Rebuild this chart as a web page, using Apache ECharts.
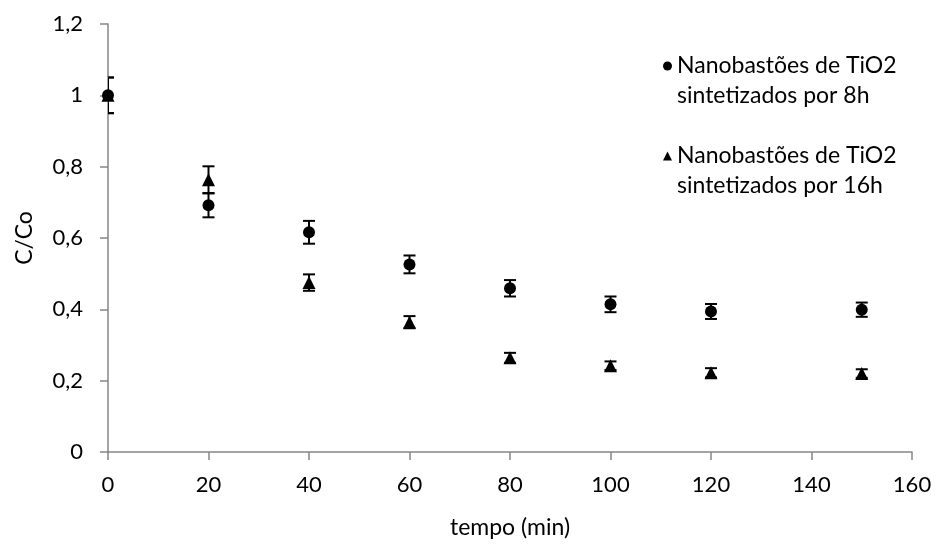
<!DOCTYPE html>
<html>
<head>
<meta charset="utf-8">
<script src="https://cdn.jsdelivr.net/npm/echarts@6/dist/echarts.min.js"></script>
<style>
html,body{margin:0;padding:0;background:#fff;}
#chart{width:935px;height:544px;}
</style>
</head>
<body>
<div id="chart"></div>
<script>
// ---- data ----
const tempo = [0, 20, 40, 60, 80, 100, 120, 150];
const mean8h = [1.0, 0.692, 0.616, 0.526, 0.459, 0.414, 0.394, 0.399];
const err8h = [0.05, 0.034, 0.032, 0.025, 0.023, 0.022, 0.021, 0.020];
const mean16h = [1.0, 0.763, 0.475, 0.364, 0.264, 0.242, 0.222, 0.220];
const err16h = [0.05, 0.038, 0.023, 0.017, 0.014, 0.012, 0.013, 0.012];
const seriesNames = ['Nanobastões de TiO2 sintetizados por 8h', 'Nanobastões de TiO2 sintetizados por 16h'];
const legendLines = {
  'Nanobastões de TiO2 sintetizados por 8h': ['Nanobastões de TiO2', 'sintetizados por 8h'],
  'Nanobastões de TiO2 sintetizados por 16h': ['Nanobastões de TiO2', 'sintetizados por 16h']
};
const xAxisTitle = 'tempo (min)';
const yAxisTitle = 'C/Co';

const FONT = 'Lato';
const FS_TICK = 22;
const FS_TEXT = 23;

function points(means) { return tempo.map((t, i) => [t, means[i]]); }
function errData(means, errs) { return tempo.map((t, i) => [t, means[i] - errs[i], means[i] + errs[i]]); }

function errRender(params, api) {
  const x = api.value(0);
  const lo = api.coord([x, api.value(1)]);
  const hi = api.coord([x, api.value(2)]);
  const hw = 6;
  const style = { stroke: '#000', lineWidth: 2 };
  return {
    type: 'group',
    children: [
      { type: 'line', shape: { x1: lo[0], y1: lo[1], x2: hi[0], y2: hi[1] }, style },
      { type: 'line', shape: { x1: lo[0] - hw, y1: lo[1], x2: lo[0] + hw, y2: lo[1] }, style },
      { type: 'line', shape: { x1: hi[0] - hw, y1: hi[1], x2: hi[0] + hw, y2: hi[1] }, style }
    ]
  };
}

const axisGray = '#868686';
const chart = echarts.init(document.getElementById('chart'), null, { renderer: 'canvas' });
chart.setOption({
  animation: false,
  backgroundColor: '#fff',
  textStyle: { fontFamily: FONT },
  grid: { left: 108, right: 23, top: 24, bottom: 91, containLabel: false },
  legend: {
    orient: 'vertical',
    left: 658,
    top: 16,
    itemWidth: 9,
    itemHeight: 9,
    itemGap: 0,
    data: [
      { name: seriesNames[0], icon: 'circle' },
      { name: seriesNames[1], icon: 'triangle' }
    ],
    formatter: name => '\n' + legendLines[name].join('\n'),
    textStyle: { fontFamily: FONT, fontSize: FS_TEXT, color: '#000', lineHeight: 30 },
    selectedMode: false
  },
  xAxis: {
    type: 'value',
    min: 0, max: 160, interval: 20,
    name: xAxisTitle,
    nameLocation: 'middle',
    nameGap: 64,
    nameTextStyle: { fontFamily: FONT, fontSize: FS_TEXT, color: '#000' },
    axisLine: { show: true, onZero: false, lineStyle: { color: axisGray, width: 1.5 } },
    axisTick: { show: true, length: 8, lineStyle: { color: axisGray, width: 1.5 } },
    axisLabel: { fontFamily: FONT, fontSize: FS_TICK, color: '#000', margin: 22 },
    splitLine: { show: false }
  },
  yAxis: {
    type: 'value',
    min: 0, max: 1.2, interval: 0.2,
    name: yAxisTitle,
    nameLocation: 'middle',
    nameGap: 72,
    nameRotate: 90,
    nameTextStyle: { fontFamily: FONT, fontSize: FS_TEXT, color: '#000' },
    axisLine: { show: true, lineStyle: { color: axisGray, width: 1.5 } },
    axisTick: { show: true, length: 8, lineStyle: { color: axisGray, width: 1.5 } },
    axisLabel: {
      fontFamily: FONT, fontSize: FS_TICK, color: '#000', margin: 25,
      formatter: v => String(+v.toFixed(1)).replace('.', ',')
    },
    splitLine: { show: false }
  },
  series: [
    {
      name: seriesNames[1], type: 'scatter', data: points(mean16h),
      symbol: 'triangle', symbolSize: 13, itemStyle: { color: '#000', opacity: 1 }, z: 3
    },
    {
      name: seriesNames[0], type: 'scatter', data: points(mean8h),
      symbol: 'circle', symbolSize: 12, itemStyle: { color: '#000', opacity: 1 }, z: 4
    },
    {
      type: 'custom', renderItem: errRender, data: errData(mean16h, err16h),
      encode: { x: 0, y: [1, 2] }, clip: true, z: 2, silent: true
    },
    {
      type: 'custom', renderItem: errRender, data: errData(mean8h, err8h),
      encode: { x: 0, y: [1, 2] }, clip: true, z: 2, silent: true
    }
  ]
});
</script>
</body>
</html>
